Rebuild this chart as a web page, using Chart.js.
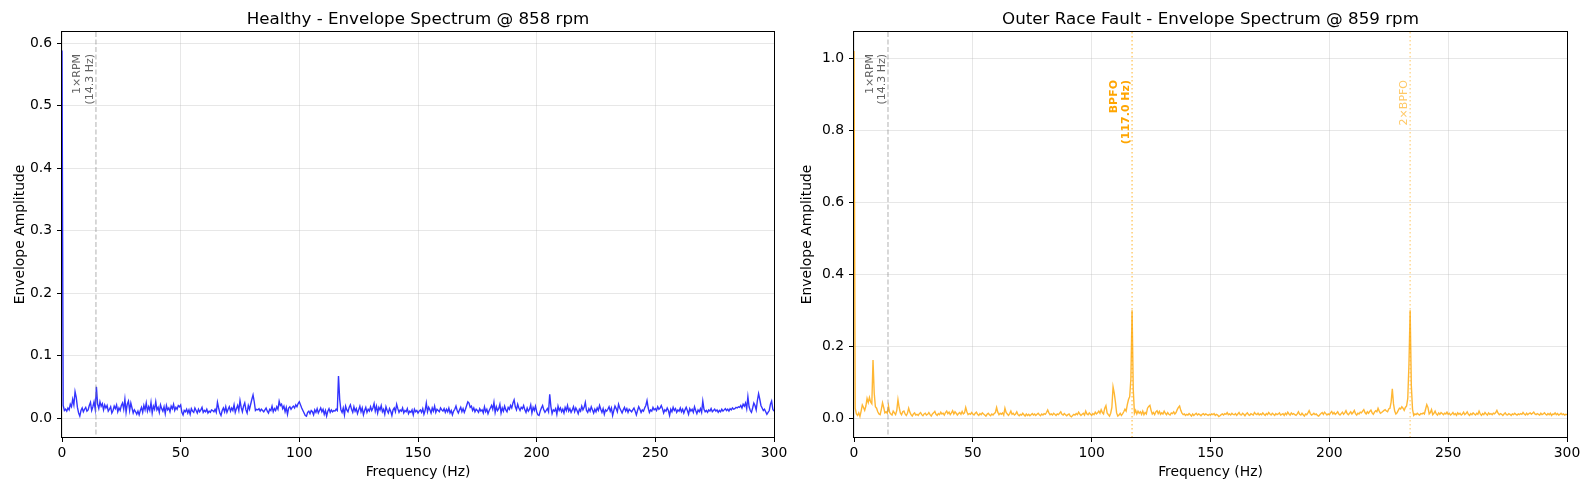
<!DOCTYPE html>
<html>
<head>
<meta charset="utf-8">
<script src="https://cdn.jsdelivr.net/npm/chart.js@4.4.0/dist/chart.umd.min.js"></script>
<style>
    html, body { margin: 0; padding: 0; background: #fff; }
    #wrap { position: relative; width: 1589px; height: 490px; }
    .box { position: absolute; top: 0; height: 490px; }
    #box-healthy { left: 0; width: 794px; }
    #box-fault { left: 794px; width: 795px; }
</style>
</head>
<body>
<div id="wrap">
    <div class="box" id="box-healthy"><canvas id="grafico-healthy" width="794" height="490"></canvas></div>
    <div class="box" id="box-fault"><canvas id="grafico-fault" width="795" height="490"></canvas></div>
</div>
<script>
// envelope spectrum, 0.5 Hz bins from 0 to 300 Hz
const freqStep = 0.5;
const freqMax = 300;

// healthy bearing @ 858 rpm (one row = 10 Hz)
const healthyAmp = [
    0.588, 0.020, 0.012, 0.014, 0.011, 0.016, 0.013, 0.022, 0.018, 0.030, 0.021, 0.042, 0.033, 0.017, 0.008, 0.003, 0.012, 0.016, 0.010, 0.014,
    0.017, 0.011, 0.013, 0.020, 0.025, 0.012, 0.018, 0.026, 0.014, 0.050, 0.022, 0.015, 0.026, 0.019, 0.023, 0.013, 0.021, 0.016, 0.020, 0.011,
    0.014, 0.018, 0.008, 0.012, 0.019, 0.015, 0.021, 0.010, 0.016, 0.012, 0.020, 0.024, 0.014, 0.030, 0.009, 0.022, 0.027, 0.012, 0.024, 0.016,
    0.008, 0.013, 0.010, 0.006, 0.011, 0.005, 0.012, 0.017, 0.009, 0.020, 0.013, 0.024, 0.011, 0.018, 0.012, 0.025, 0.008, 0.019, 0.014, 0.026,
    0.013, 0.017, 0.009, 0.021, 0.015, 0.011, 0.018, 0.007, 0.020, 0.013, 0.016, 0.010, 0.019, 0.015, 0.022, 0.012, 0.017, 0.014, 0.020, 0.018,
    0.021, 0.009, 0.005, 0.012, 0.010, 0.014, 0.008, 0.013, 0.006, 0.015, 0.011, 0.009, 0.016, 0.012, 0.008, 0.014, 0.010, 0.013, 0.017, 0.009,
    0.012, 0.010, 0.014, 0.008, 0.011, 0.009, 0.013, 0.012, 0.010, 0.014, 0.009, 0.025, 0.016, 0.008, 0.004, 0.012, 0.016, 0.010, 0.018, 0.009,
    0.014, 0.018, 0.011, 0.016, 0.012, 0.021, 0.009, 0.015, 0.020, 0.012, 0.028, 0.017, 0.010, 0.019, 0.024, 0.013, 0.008, 0.020, 0.014, 0.022,
    0.030, 0.037, 0.026, 0.012, 0.014, 0.013, 0.015, 0.011, 0.014, 0.012, 0.010, 0.013, 0.016, 0.011, 0.008, 0.014, 0.012, 0.019, 0.010, 0.015,
    0.012, 0.018, 0.014, 0.027, 0.020, 0.022, 0.015, 0.019, 0.010, 0.017, 0.006, 0.016, 0.018, 0.014, 0.017, 0.019, 0.016, 0.021, 0.018, 0.023,
    0.026, 0.021, 0.016, 0.012, 0.008, 0.004, 0.003, 0.009, 0.011, 0.007, 0.012, 0.010, 0.005, 0.013, 0.009, 0.015, 0.008, 0.012, 0.016, 0.010,
    0.014, 0.006, 0.012, 0.003, 0.011, 0.015, 0.009, 0.013, 0.010, 0.012, 0.011, 0.014, 0.012, 0.067, 0.030, 0.013, 0.009, 0.016, 0.005, 0.019,
    0.013, 0.010, 0.017, 0.021, 0.014, 0.009, 0.018, 0.011, 0.015, 0.007, 0.013, 0.019, 0.010, 0.016, 0.005, 0.012, 0.017, 0.009, 0.014, 0.011,
    0.018, 0.012, 0.016, 0.023, 0.011, 0.019, 0.008, 0.017, 0.013, 0.020, 0.010, 0.014, 0.006, 0.018, 0.012, 0.008, 0.015, 0.011, 0.004, 0.013,
    0.016, 0.010, 0.022, 0.015, 0.009, 0.013, 0.011, 0.016, 0.008, 0.012, 0.010, 0.015, 0.007, 0.011, 0.009, 0.013, 0.005, 0.014, 0.010, 0.012,
    0.008, 0.011, 0.013, 0.009, 0.015, 0.006, 0.012, 0.024, 0.010, 0.017, 0.013, 0.008, 0.016, 0.011, 0.019, 0.009, 0.014, 0.012, 0.010, 0.016,
    0.013, 0.011, 0.015, 0.009, 0.014, 0.010, 0.016, 0.008, 0.012, 0.005, 0.011, 0.014, 0.019, 0.012, 0.008, 0.013, 0.017, 0.010, 0.015, 0.009,
    0.014, 0.020, 0.026, 0.024, 0.017, 0.019, 0.012, 0.016, 0.010, 0.014, 0.012, 0.009, 0.015, 0.011, 0.013, 0.008, 0.018, 0.010, 0.014, 0.007,
    0.012, 0.016, 0.020, 0.014, 0.025, 0.009, 0.018, 0.012, 0.015, 0.022, 0.008, 0.016, 0.011, 0.019, 0.013, 0.010, 0.017, 0.014, 0.020, 0.016,
    0.024, 0.029, 0.018, 0.013, 0.022, 0.016, 0.012, 0.017, 0.015, 0.020, 0.013, 0.009, 0.016, 0.011, 0.014, 0.021, 0.008, 0.017, 0.012, 0.019,
    0.010, 0.005, 0.004, 0.011, 0.016, 0.020, 0.013, 0.009, 0.012, 0.015, 0.010, 0.038, 0.018, 0.007, 0.013, 0.011, 0.015, 0.006, 0.019, 0.012,
    0.016, 0.010, 0.014, 0.008, 0.017, 0.012, 0.020, 0.011, 0.015, 0.009, 0.013, 0.018, 0.010, 0.016, 0.012, 0.007, 0.014, 0.011, 0.019, 0.013,
    0.017, 0.025, 0.012, 0.009, 0.015, 0.011, 0.018, 0.013, 0.008, 0.014, 0.010, 0.016, 0.012, 0.020, 0.014, 0.009, 0.015, 0.006, 0.013, 0.011,
    0.014, 0.018, 0.011, 0.016, 0.004, 0.012, 0.019, 0.015, 0.010, 0.022, 0.016, 0.012, 0.008, 0.013, 0.017, 0.011, 0.015, 0.009, 0.014, 0.012,
    0.010, 0.013, 0.016, 0.011, 0.005, 0.012, 0.018, 0.014, 0.009, 0.013, 0.011, 0.016, 0.020, 0.028, 0.016, 0.009, 0.013, 0.011, 0.017, 0.013,
    0.015, 0.012, 0.018, 0.014, 0.016, 0.020, 0.015, 0.008, 0.013, 0.011, 0.016, 0.012, 0.004, 0.014, 0.010, 0.017, 0.012, 0.015, 0.009, 0.013,
    0.011, 0.016, 0.010, 0.014, 0.008, 0.013, 0.017, 0.012, 0.006, 0.015, 0.011, 0.014, 0.009, 0.018, 0.012, 0.007, 0.013, 0.010, 0.015, 0.009,
    0.027, 0.014, 0.010, 0.012, 0.009, 0.013, 0.011, 0.015, 0.010, 0.012, 0.014, 0.011, 0.013, 0.009, 0.012, 0.010, 0.014, 0.011, 0.013, 0.015,
    0.012, 0.014, 0.011, 0.015, 0.013, 0.016, 0.014, 0.015, 0.017, 0.016, 0.018, 0.017, 0.020, 0.016, 0.022, 0.019, 0.024, 0.015, 0.034, 0.018,
    0.012, 0.009, 0.016, 0.024, 0.020, 0.013, 0.028, 0.039, 0.030, 0.020, 0.016, 0.012, 0.014, 0.010, 0.006, 0.009, 0.012, 0.022, 0.027, 0.014,
    0.011
];

// outer race fault @ 859 rpm (one row = 10 Hz)
const faultAmp = [
    1.020, 0.028, 0.012, 0.008, 0.015, 0.005, 0.020, 0.037, 0.030, 0.022, 0.034, 0.055, 0.044, 0.058, 0.045, 0.040, 0.162, 0.070, 0.032, 0.028,
    0.018, 0.012, 0.010, 0.025, 0.043, 0.030, 0.015, 0.018, 0.014, 0.035, 0.016, 0.012, 0.009, 0.020, 0.015, 0.010, 0.022, 0.052, 0.030, 0.015,
    0.010, 0.018, 0.020, 0.012, 0.008, 0.014, 0.028, 0.017, 0.010, 0.006, 0.012, 0.015, 0.009, 0.011, 0.008, 0.013, 0.016, 0.010, 0.007, 0.012,
    0.014, 0.009, 0.011, 0.016, 0.010, 0.006, 0.012, 0.015, 0.019, 0.011, 0.008, 0.013, 0.010, 0.017, 0.012, 0.014, 0.009, 0.016, 0.020, 0.013,
    0.017, 0.010, 0.015, 0.021, 0.012, 0.018, 0.014, 0.009, 0.013, 0.016, 0.011, 0.019, 0.012, 0.015, 0.030, 0.018, 0.010, 0.013, 0.011, 0.016,
    0.012, 0.009, 0.014, 0.017, 0.011, 0.008, 0.013, 0.010, 0.015, 0.012, 0.009, 0.006, 0.011, 0.014, 0.010, 0.007, 0.012, 0.009, 0.013, 0.016,
    0.030, 0.017, 0.010, 0.014, 0.011, 0.015, 0.009, 0.028, 0.016, 0.012, 0.008, 0.013, 0.020, 0.011, 0.014, 0.009, 0.012, 0.018, 0.010, 0.007,
    0.011, 0.009, 0.014, 0.010, 0.006, 0.012, 0.008, 0.011, 0.007, 0.010, 0.013, 0.009, 0.012, 0.008, 0.011, 0.014, 0.010, 0.007, 0.012, 0.009,
    0.013, 0.011, 0.016, 0.023, 0.015, 0.010, 0.012, 0.009, 0.014, 0.011, 0.008, 0.012, 0.010, 0.014, 0.018, 0.011, 0.009, 0.013, 0.010, 0.007,
    0.010, 0.012, 0.006, 0.004, 0.008, 0.011, 0.009, 0.013, 0.010, 0.017, 0.012, 0.008, 0.011, 0.014, 0.009, 0.020, 0.012, 0.010, 0.015, 0.011,
    0.008, 0.013, 0.010, 0.017, 0.012, 0.015, 0.020, 0.014, 0.024, 0.016, 0.012, 0.028, 0.035, 0.015, 0.010, 0.006, 0.014, 0.030, 0.087, 0.070,
    0.045, 0.015, 0.006, 0.009, 0.014, 0.008, 0.012, 0.018, 0.025, 0.020, 0.038, 0.052, 0.060, 0.110, 0.300, 0.080, 0.014, 0.022, 0.012, 0.020,
    0.014, 0.018, 0.011, 0.020, 0.010, 0.016, 0.012, 0.028, 0.033, 0.036, 0.022, 0.012, 0.016, 0.010, 0.018, 0.021, 0.013, 0.019, 0.011, 0.015,
    0.012, 0.020, 0.014, 0.010, 0.016, 0.011, 0.009, 0.015, 0.013, 0.018, 0.012, 0.016, 0.024, 0.030, 0.034, 0.022, 0.014, 0.010, 0.012, 0.008,
    0.011, 0.009, 0.013, 0.010, 0.006, 0.012, 0.008, 0.011, 0.014, 0.009, 0.012, 0.010, 0.007, 0.011, 0.013, 0.009, 0.012, 0.010, 0.008, 0.011,
    0.009, 0.012, 0.010, 0.013, 0.008, 0.011, 0.009, 0.005, 0.007, 0.010, 0.012, 0.009, 0.013, 0.011, 0.016, 0.010, 0.012, 0.009, 0.014, 0.011,
    0.010, 0.013, 0.008, 0.012, 0.016, 0.010, 0.009, 0.014, 0.011, 0.007, 0.012, 0.015, 0.010, 0.008, 0.013, 0.011, 0.009, 0.016, 0.012, 0.010,
    0.014, 0.009, 0.012, 0.010, 0.015, 0.011, 0.008, 0.013, 0.010, 0.016, 0.012, 0.009, 0.014, 0.011, 0.008, 0.013, 0.010, 0.012, 0.015, 0.009,
    0.011, 0.013, 0.008, 0.014, 0.010, 0.017, 0.012, 0.009, 0.015, 0.011, 0.013, 0.010, 0.008, 0.012, 0.018, 0.011, 0.009, 0.014, 0.010, 0.006,
    0.012, 0.010, 0.015, 0.021, 0.013, 0.009, 0.011, 0.014, 0.010, 0.012, 0.008, 0.006, 0.010, 0.013, 0.016, 0.011, 0.017, 0.013, 0.009, 0.012,
    0.010, 0.015, 0.019, 0.012, 0.016, 0.011, 0.014, 0.018, 0.012, 0.009, 0.013, 0.017, 0.011, 0.015, 0.021, 0.013, 0.010, 0.014, 0.018, 0.012,
    0.016, 0.022, 0.013, 0.009, 0.014, 0.012, 0.017, 0.015, 0.020, 0.024, 0.016, 0.012, 0.018, 0.014, 0.019, 0.023, 0.015, 0.011, 0.017, 0.021,
    0.018, 0.028, 0.020, 0.014, 0.016, 0.019, 0.022, 0.024, 0.020, 0.018, 0.026, 0.028, 0.045, 0.082, 0.040, 0.020, 0.012, 0.015, 0.022, 0.028,
    0.026, 0.032, 0.028, 0.022, 0.030, 0.034, 0.055, 0.150, 0.300, 0.090, 0.025, 0.008, 0.012, 0.010, 0.014, 0.011, 0.009, 0.013, 0.012, 0.015,
    0.012, 0.025, 0.038, 0.030, 0.012, 0.016, 0.024, 0.010, 0.014, 0.020, 0.012, 0.009, 0.015, 0.011, 0.016, 0.013, 0.010, 0.014, 0.012, 0.017,
    0.011, 0.014, 0.009, 0.012, 0.016, 0.010, 0.013, 0.008, 0.015, 0.011, 0.014, 0.009, 0.012, 0.017, 0.010, 0.013, 0.018, 0.011, 0.008, 0.013,
    0.010, 0.015, 0.012, 0.009, 0.014, 0.011, 0.020, 0.012, 0.008, 0.013, 0.010, 0.016, 0.012, 0.009, 0.015, 0.011, 0.013, 0.010, 0.014, 0.012,
    0.016, 0.022, 0.014, 0.010, 0.013, 0.011, 0.008, 0.012, 0.015, 0.010, 0.009, 0.013, 0.011, 0.008, 0.012, 0.010, 0.014, 0.011, 0.009, 0.012,
    0.010, 0.013, 0.011, 0.016, 0.012, 0.009, 0.014, 0.010, 0.013, 0.015, 0.011, 0.014, 0.017, 0.012, 0.010, 0.013, 0.011, 0.009, 0.014, 0.010,
    0.012, 0.015, 0.011, 0.009, 0.013, 0.010, 0.014, 0.008, 0.012, 0.011, 0.015, 0.010, 0.013, 0.009, 0.011, 0.014, 0.010, 0.012, 0.009, 0.011,
    0.010
];

// tick labels
const xTicks = [0, 50, 100, 150, 200, 250, 300];
const yTicksHealthy = [0.0, 0.1, 0.2, 0.3, 0.4, 0.5, 0.6];
const yTicksFault = [0.0, 0.2, 0.4, 0.6, 0.8, 1.0];

// characteristic frequencies (Hz)
const rpmHz = 14.3;
const bpfoHz = 117.0;
const bpfo2Hz = 234.0;

const fonte = 'DejaVu Sans, Verdana, sans-serif';

function pontos(amp) {
    return amp.map((v, i) => ({ x: i * freqStep, y: v }));
}

// vertical marker lines + rotated labels, frame and title
const marcadores = {
    id: 'marcadores',
    afterDatasetsDraw(chart, args, opts) {
        const { ctx, chartArea: a, scales: { x } } = chart;
        opts.linhas.forEach(l => {
            const px = x.getPixelForValue(l.freq);
            ctx.save();
            ctx.strokeStyle = l.cor;
            ctx.lineWidth = l.largura;
            ctx.setLineDash(l.traco);
            ctx.beginPath();
            ctx.moveTo(px, a.top);
            ctx.lineTo(px, a.bottom);
            ctx.stroke();
            ctx.restore();

            ctx.save();
            ctx.translate(px, a.top + l.topo);
            ctx.rotate(-Math.PI / 2);
            ctx.font = (l.negrito ? 'bold ' : '') + '11px ' + fonte;
            ctx.fillStyle = l.corTexto;
            ctx.textAlign = 'right';
            ctx.textBaseline = 'middle';
            l.textos.forEach((t, i) => ctx.fillText(t, 0, -l.desloc[i]));
            ctx.restore();
        });

        ctx.save();
        ctx.strokeStyle = '#000';
        ctx.lineWidth = 1;
        ctx.strokeRect(Math.round(a.left) - 0.5, Math.round(a.top) - 0.5,
            Math.round(a.right) - Math.round(a.left) + 1, Math.round(a.bottom) - Math.round(a.top) + 1);
        ctx.fillStyle = '#000';
        ctx.font = '16.7px ' + fonte;
        ctx.textAlign = 'center';
        ctx.textBaseline = 'alphabetic';
        ctx.fillText(opts.titulo, (a.left + a.right) / 2, 24);
        ctx.restore();
    }
};

function opcoes(yMin, yMax, yTicks, eixoLargura, tituloPad, direita, titulo, linhas) {
    return {
        responsive: false,
        animation: false,
        events: [],
        layout: { padding: { top: 32, right: direita, left: 0, bottom: 0 } },
        scales: {
            x: {
                type: 'linear',
                min: 0,
                max: freqMax,
                afterBuildTicks: s => { s.ticks = xTicks.map(v => ({ value: v })); },
                afterFit: s => { s.height = 53; },
                grid: { color: 'rgba(176,176,176,0.3)', lineWidth: 1, tickColor: '#000', tickLength: 5 },
                border: { display: false },
                ticks: { color: '#000', padding: 3, maxRotation: 0, font: { family: fonte, size: 13.9 }, callback: v => String(v) },
                title: { display: true, text: 'Frequency (Hz)', color: '#000', font: { family: fonte, size: 13.9 }, padding: { top: 0, bottom: 9 } }
            },
            y: {
                type: 'linear',
                min: yMin,
                max: yMax,
                afterBuildTicks: s => { s.ticks = yTicks.map(v => ({ value: v })); },
                afterFit: s => { s.width = eixoLargura; },
                grid: { color: 'rgba(176,176,176,0.3)', lineWidth: 1, tickColor: '#000', tickLength: 5 },
                border: { display: false },
                ticks: { color: '#000', padding: 5, font: { family: fonte, size: 13.9 }, callback: v => v.toFixed(1) },
                title: { display: true, text: 'Envelope Amplitude', color: '#000', font: { family: fonte, size: 13.9 }, padding: { top: tituloPad, bottom: 0 } }
            }
        },
        plugins: {
            legend: { display: false },
            tooltip: { enabled: false },
            title: { display: false },
            marcadores: { titulo: titulo, linhas: linhas }
        }
    };
}

const linhaRpm = {
    freq: rpmHz, cor: 'rgba(128,128,128,0.5)', largura: 1.2, traco: [5, 2.5],
    topo: 22, textos: ['1×RPM', '(' + rpmHz.toFixed(1) + ' Hz)'], desloc: [18.3, 5.5],
    corTexto: 'rgba(70,70,70,0.85)', negrito: false
};

new Chart(document.getElementById('grafico-healthy'), {
    type: 'scatter',
    data: {
        datasets: [{
            data: pontos(healthyAmp),
            showLine: true,
            borderColor: 'rgba(0,0,255,0.8)',
            borderWidth: 1.4,
            pointRadius: 0,
            tension: 0
        }]
    },
    options: opcoes(-0.0304, 0.6176, yTicksHealthy, 62, 11.6, 20,
        'Healthy - Envelope Spectrum @ 858 rpm', [linhaRpm]),
    plugins: [marcadores]
});

new Chart(document.getElementById('grafico-fault'), {
    type: 'scatter',
    data: {
        datasets: [{
            data: pontos(faultAmp),
            showLine: true,
            borderColor: 'rgba(255,165,0,0.8)',
            borderWidth: 1.4,
            pointRadius: 0,
            tension: 0
        }]
    },
    options: opcoes(-0.052, 1.073, yTicksFault, 60, 5.1, 22,
        'Outer Race Fault - Envelope Spectrum @ 859 rpm', [
            linhaRpm,
            {
                freq: bpfoHz, cor: 'rgba(255,165,0,0.6)', largura: 1.4, traco: [1.5, 2.5],
                topo: 48, textos: ['BPFO', '(' + bpfoHz.toFixed(1) + ' Hz)'], desloc: [17.7, 5.7],
                corTexto: '#ffa500', negrito: true
            },
            {
                freq: bpfo2Hz, cor: 'rgba(255,165,0,0.45)', largura: 1.4, traco: [1.5, 2.5],
                topo: 48, textos: ['2×BPFO'], desloc: [5.7],
                corTexto: 'rgba(255,165,0,0.6)', negrito: false
            }
        ]),
    plugins: [marcadores]
});
</script>
</body>
</html>
